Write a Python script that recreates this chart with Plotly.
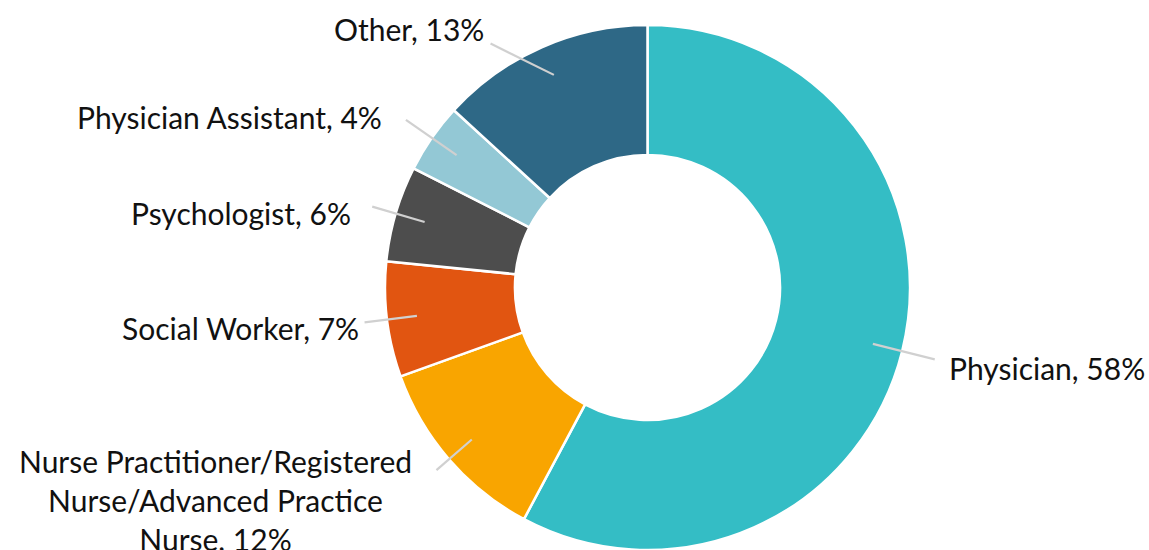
import math
import plotly.graph_objects as go

# ---- data ----
categories = ["Physician", "Nurse Practitioner/Registered<br>Nurse/Advanced Practice<br>Nurse",
              "Social Worker", "Psychologist", "Physician Assistant", "Other"]
shares = [57.8, 11.7, 7.1, 5.9, 4.3, 13.2]

# ---- style (label placement only) ----
colors = ["#34BDC5", "#F9A500", "#E15511", "#4D4D4D", "#93C8D5", "#2E6886"]
label_angle_nudge = [0, 0, 0, 0, 0, -9]                    # degrees
label_radius = [1.128, 1.063, 1.086, 1.093, 1.12, 1.105]   # leader-line end, fraction of R
label_dx = [12, -22, -4, -19, -22, -5]                     # px from leader end to text edge
label_dy = [11, -7, 8, 8, -1, -13]                         # px from leader end to first text line
W, H = 1149, 550
CX, CY, R = 647.5, 287.5, 262.5          # pixel geometry of the donut
HOLE = 0.505
FONT = "Lato"
FSIZE = 30
TEXT_COLOR = "#111111"
LINE_COLOR = "#D0D0D0"

fig = go.Figure(go.Pie(
    labels=categories, values=shares, sort=False, direction="clockwise", rotation=0,
    hole=HOLE, marker=dict(colors=colors, line=dict(color="white", width=2.5)),
    textinfo="none", hoverinfo="label+percent",
    domain=dict(x=[(CX - R) / W, (CX + R) / W], y=[max(0, (H - CY - R) / H), (H - CY + R) / H]),
))

def px(x, y):
    return x / W, 1 - y / H

total = sum(shares)
cum = 0.0
shapes, annotations = [], []
for i, (cat, v) in enumerate(zip(categories, shares)):
    mid = (cum + v / 2) / total * 360.0
    cum += v
    a0 = math.radians(mid)
    a1 = math.radians(mid + label_angle_nudge[i])
    rl = label_radius[i]
    sx, sy = CX + 0.885 * R * math.sin(a0), CY - 0.885 * R * math.cos(a0)
    ex, ey = CX + rl * R * math.sin(a1), CY - rl * R * math.cos(a1)
    x0, y0 = px(sx, sy)
    x1, y1 = px(ex, ey)
    shapes.append(dict(type="line", xref="paper", yref="paper", x0=x0, y0=y0, x1=x1, y1=y1,
                       line=dict(color=LINE_COLOR, width=2.2)))
    pct = f"{round(v / total * 100):.0f}%"
    right = math.sin(a1) > 0
    lx = ex + label_dx[i]
    ly = ey + label_dy[i] - 22
    ax, ay = px(lx, ly)
    annotations.append(dict(x=ax, y=ay, xref="paper", yref="paper", showarrow=False,
                            text=f"{cat}, {pct}", xanchor="left" if right else "right",
                            yanchor="top", align="center",
                            font=dict(family=FONT, size=FSIZE, color=TEXT_COLOR)))

fig.update_layout(width=W, height=H, margin=dict(l=0, r=0, t=0, b=0),
                  paper_bgcolor="white", plot_bgcolor="white", showlegend=False,
                  shapes=shapes, annotations=annotations)
fig.write_html("out.html", config={"displayModeBar": False},
               post_script="document.body.style.margin='0';")
